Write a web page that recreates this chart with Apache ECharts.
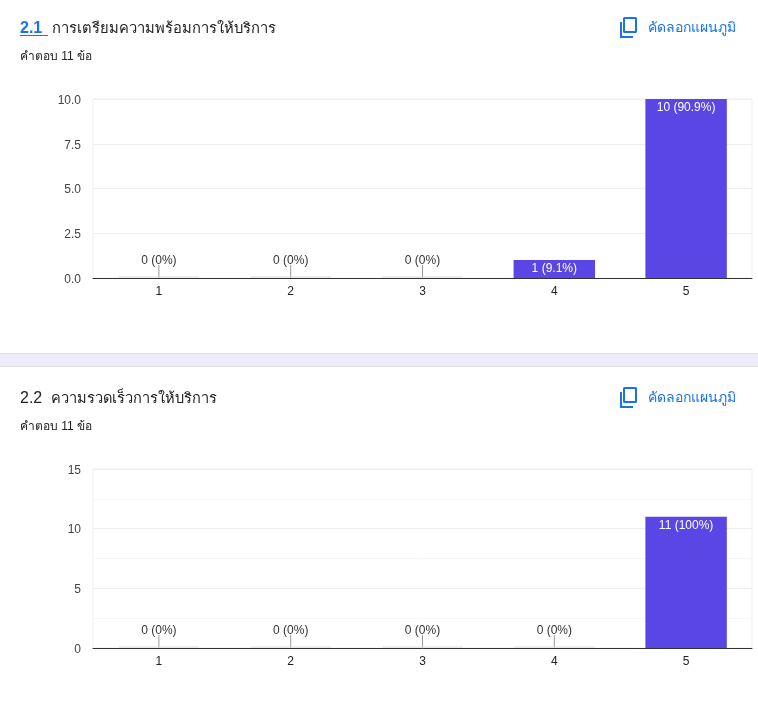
<!DOCTYPE html>
<html>
<head>
<meta charset="utf-8">
<style>html,body{margin:0;padding:0;background:#fff}#c{width:758px;height:712px}</style>
<script src="https://cdn.jsdelivr.net/npm/echarts@6/dist/echarts.min.js"></script>
</head>
<body>
<div id="c"></div>
<script>
const categories = ['1','2','3','4','5'];
const values1 = [0,0,0,1,10];
const values2 = [0,0,0,0,11];
const pct1 = ['0%','0%','0%','9.1%','90.9%'];
const pct2 = ['0%','0%','0%','0%','100%'];
const title1 = 'การเตรียมความพร้อมการให้บริการ';
const title2 = 'ความรวดเร็วการให้บริการ';
const number1 = '2.1';
const number2 = '2.2';
const answers = 'คำตอบ 11 ข้อ';
const copyLabel = 'คัดลอกแผนภูมิ';

const FONT = '"Liberation Sans", Arial, "Noto Sans", sans-serif';
const PURPLE = '#5946e5';
const BLUE = '#1a73e8';

function makeBar(values, pct, idx){
  return {
    type:'bar', xAxisIndex:idx, yAxisIndex:idx, barWidth:'61.8%', z:3, silent:true,
    itemStyle:{color:PURPLE},
    data: values.map((v,i)=>({
      value:v,
      label:{
        show:true,
        formatter: v+' ('+pct[i]+')',
        fontFamily:FONT, fontSize:12,
        position: v>0 ? 'insideTop' : 'top',
        distance: v>0 ? 3 : 11,
        color: v>0 ? '#ffffff' : '#333333',
        textBorderColor: 'transparent',
        textBorderWidth: 0
      }
    }))
  };
}
function makeLeaders(values, idx){
  return {
    type:'custom', xAxisIndex:idx, yAxisIndex:idx, z:2, silent:true,
    data: values.map((v,i)=>[i,v]),
    encode:{x:0,y:1},
    renderItem:(params,api)=>{
      if(api.value(1)!==0) return null;
      const p = api.coord([api.value(0),0]);
      const w = api.size([1,0])[0]*0.61;
      return {type:'group',children:[
        {type:'line',shape:{x1:p[0],y1:p[1],x2:p[0],y2:p[1]-13},style:{stroke:'#999999',lineWidth:1}},
        {type:'line',shape:{x1:p[0]-w/2,y1:p[1]-1,x2:p[0]+w/2,y2:p[1]-1},style:{stroke:'#dcdcdc',lineWidth:1}}
      ]};
    }
  };
}
function xAxis(idx){
  return {type:'category',gridIndex:idx,data:categories,
    axisTick:{show:false},
    axisLine:{lineStyle:{color:'#333333',width:1}},
    axisLabel:{color:'#222222',fontFamily:FONT,fontSize:12,margin:8},
    splitLine:{show:false}};
}
function yAxis(idx,max,interval,fmt,minor){
  return {type:'value',gridIndex:idx,min:0,max:max,interval:interval,
    axisLine:{show:false},axisTick:{show:false},
    axisLabel:{margin:12,
      formatter:v=>'{t|'+fmt(v)+'}',
      rich:{t:{color:'#444444',fontFamily:FONT,fontSize:12,padding:[3,0,0,0]}}},
    splitLine:{lineStyle:{color:'#eeeeee',width:1}},
    minorTick:{show:false,splitNumber:2},
    minorSplitLine:{show:minor,lineStyle:{color:'#f6f6f6',width:1}}};
}
function headText(x,y,text,size,color,weight){
  return {type:'text',x:x,y:y,silent:true,style:{text:text,fontFamily:FONT,fontSize:size,fill:color,fontWeight:weight||400,textVerticalAlign:'middle'}};
}
function copyIcon(y){
  return {type:'group',x:620,y:y,silent:true,children:[
    {type:'rect',shape:{x:4,y:0,width:12,height:14,r:0.5},style:{fill:'none',stroke:BLUE,lineWidth:2}},
    {type:'polyline',shape:{points:[[1,4],[1,19],[13,19]]},style:{fill:'none',stroke:BLUE,lineWidth:2}}
  ]};
}
const chart = echarts.init(document.getElementById('c'),null,{renderer:'canvas'});
chart.setOption({
  animation:false,
  backgroundColor:'#ffffff',
  grid:[
    {left:93,right:6,top:99,height:179,show:true,borderColor:'#f0f0f0',borderWidth:1,backgroundColor:'transparent'},
    {left:93,right:6,top:469,height:179,show:true,borderColor:'#f0f0f0',borderWidth:1,backgroundColor:'transparent'}
  ],
  xAxis:[xAxis(0),xAxis(1)],
  yAxis:[
    yAxis(0,10,2.5,v=>v.toFixed(1),false),
    yAxis(1,15,5,v=>String(v),true)
  ],
  series:[makeLeaders(values1,0),makeBar(values1,pct1,0),makeLeaders(values2,1),makeBar(values2,pct2,1)],
  graphic:[
    {type:'rect',shape:{x:0,y:353,width:758,height:14},style:{fill:'#eeecfb'},silent:true},
    {type:'rect',shape:{x:0,y:353,width:758,height:1},style:{fill:'#dddddd'},silent:true},
    {type:'rect',shape:{x:0,y:366,width:758,height:1},style:{fill:'#dddddd'},silent:true},
    headText(20,29,number1,16,BLUE,700),
    {type:'rect',shape:{x:20,y:35,width:28,height:1},style:{fill:BLUE},silent:true},
    headText(52,29,title1,14.75,'#202124'),
    headText(20,57,answers,12,'#202124'),
    copyIcon(18),
    headText(648,28,copyLabel,14,BLUE,500),
    headText(20,399,number2,16,'#202124'),
    headText(51,399,title2,14.6,'#202124'),
    headText(20,427,answers,12,'#202124'),
    copyIcon(388),
    headText(648,398,copyLabel,14,BLUE,500)
  ]
});
</script>
</body>
</html>
